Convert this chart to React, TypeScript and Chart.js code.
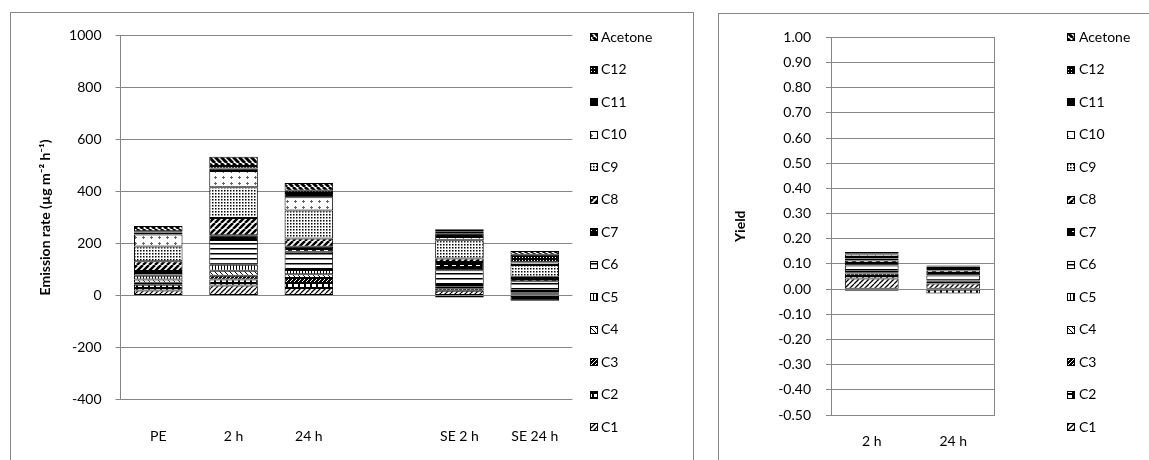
import React, { useEffect, useRef } from 'react';
import { Chart, registerables } from 'chart.js';

Chart.register(...registerables);

// ---------- data ----------
const seriesNames = ['C1', 'C2', 'C3', 'C4', 'C5', 'C6', 'C7', 'C8', 'C9', 'C10', 'C11', 'C12', 'Acetone'];

const emissionCategories = ['PE', '2 h', '24 h', '', 'SE 2 h', 'SE 24 h'];
const emissionC1 = [19, 38, 29, null, 18, 3];
const emissionC2 = [22, 23, 19, null, -8, 3];
const emissionC3 = [8, 15, 19, null, 10, 3];
const emissionC4 = [12, 19, 15, null, 6, 3];
const emissionC5 = [15, 23, 16, null, 6, 5];
const emissionC6 = [10, 95, 70, null, 57, 38];
const emissionC7 = [8, 19, 19, null, 32, 12];
const emissionC8 = [38, 66, 32, null, 13, 5];
const emissionC9 = [56, 118, 108, null, 70, 45];
const emissionC10 = [46, 63, 51, null, 13, 10];
const emissionC11 = [8, 9, 16, null, 14, -20];
const emissionC12 = [5, 10, 9, null, 8, 30];
const emissionAcetone = [20, 35, 29, null, 8, 14];
const emissionTicks = { min: -400, max: 1000, step: 200 };

const yieldCategories = ['2 h', '24 h'];
const yieldC1 = [0.042, 0.022];
const yieldC2 = [0.010, -0.017];
const yieldC3 = [0.010, 0.006];
const yieldC4 = [0.003, 0.003];
const yieldC5 = [0.003, 0.003];
const yieldC6 = [0.026, 0.020];
const yieldC7 = [0.020, 0.020];
const yieldC8 = [0.008, 0.002];
const yieldC9 = [0.006, 0.004];
const yieldC10 = [0.010, 0.004];
const yieldC11 = [-0.006, 0.006];
const yieldC12 = [0.005, 0.002];
const yieldAcetone = [0.005, 0.002];
const yieldTicks = { min: -0.5, max: 1.0, step: 0.1 };

const emissionSeries = [emissionC1, emissionC2, emissionC3, emissionC4, emissionC5, emissionC6, emissionC7,
  emissionC8, emissionC9, emissionC10, emissionC11, emissionC12, emissionAcetone];
const yieldSeries = [yieldC1, yieldC2, yieldC3, yieldC4, yieldC5, yieldC6, yieldC7,
  yieldC8, yieldC9, yieldC10, yieldC11, yieldC12, yieldAcetone];

// ---------- styles ----------
const FONT = 'Lato, "Liberation Sans", sans-serif';
const GRID = '#868686';

function makePattern(w: number, h: number, draw: (g: CanvasRenderingContext2D) => void): CanvasPattern | string {
  const c = document.createElement('canvas');
  c.width = w;
  c.height = h;
  const g = c.getContext('2d') as CanvasRenderingContext2D;
  draw(g);
  return g.createPattern(c, 'repeat') || '#888';
}

function diag(g: CanvasRenderingContext2D, s: number, width: number, up: boolean, fg: string) {
  g.strokeStyle = fg;
  g.lineWidth = width;
  g.beginPath();
  for (let k = -1; k <= 1; k++) {
    if (up) {
      g.moveTo(k * s, s);
      g.lineTo(k * s + s, 0);
    } else {
      g.moveTo(k * s, 0);
      g.lineTo(k * s + s, s);
    }
  }
  g.stroke();
}

function buildPatterns(): (CanvasPattern | string)[] {
  const bg = (g: CanvasRenderingContext2D, w: number, h: number, c: string) => {
    g.fillStyle = c;
    g.fillRect(0, 0, w, h);
  };
  return [
    // C1 light upward diagonal
    makePattern(5, 5, (g) => { bg(g, 5, 5, '#fff'); diag(g, 5, 1.3, true, '#000'); }),
    // C2 small boxes
    makePattern(6, 5, (g) => { bg(g, 6, 5, '#000'); g.fillStyle = '#fff'; g.fillRect(1, 1, 4, 3); }),
    // C3 dark upward diagonal
    makePattern(4, 4, (g) => { bg(g, 4, 4, '#000'); diag(g, 4, 1, true, '#fff'); }),
    // C4 light downward diagonal
    makePattern(5, 5, (g) => { bg(g, 5, 5, '#fff'); diag(g, 5, 1, false, '#000'); }),
    // C5 vertical lines
    makePattern(3, 3, (g) => { bg(g, 3, 3, '#fff'); g.fillStyle = '#000'; g.fillRect(0, 0, 1, 3); }),
    // C6 horizontal lines
    makePattern(4, 5, (g) => { bg(g, 4, 5, '#fff'); g.fillStyle = '#000'; g.fillRect(0, 0, 4, 1.5); }),
    // C7 black with white dashes
    makePattern(8, 5, (g) => { bg(g, 8, 5, '#000'); g.fillStyle = '#fff'; g.fillRect(1, 2, 4, 1); }),
    // C8 wide upward diagonal
    makePattern(6, 6, (g) => { bg(g, 6, 6, '#fff'); diag(g, 6, 2.5, true, '#000'); }),
    // C9 dotted grid
    makePattern(3, 3, (g) => { bg(g, 3, 3, '#fff'); g.fillStyle = '#000'; g.fillRect(0, 0, 1.5, 1.5); }),
    // C10 light plus marks
    makePattern(8, 6, (g) => { bg(g, 8, 6, '#fff'); g.fillStyle = '#666'; g.fillRect(4, 1, 1, 3); g.fillRect(3, 2, 3, 1); }),
    // C11 solid black
    '#000',
    // C12 dark dotted
    makePattern(3, 3, (g) => { bg(g, 3, 3, '#000'); g.fillStyle = '#fff'; g.fillRect(1, 1, 1, 1); }),
    // Acetone wide downward diagonal
    makePattern(6, 6, (g) => { bg(g, 6, 6, '#fff'); diag(g, 6, 3, false, '#000'); }),
  ];
}

// custom legend (reverse order, Acetone on top)
const patternLegend = {
  id: 'patternLegend',
  afterDraw(chart: any, _args: any, opts: any) {
    const { ctx } = chart;
    const items = chart.data.datasets.map((d: any) => ({ label: d.label, fill: d.backgroundColor })).reverse();
    ctx.save();
    items.forEach((it: any, k: number) => {
      const y = opts.y0 + k * opts.step;
      const bx = opts.boxX;
      const by = Math.round(y - 4);
      ctx.fillStyle = it.fill;
      ctx.fillRect(bx, by, 8, 8);
      ctx.strokeStyle = '#000';
      ctx.lineWidth = 1;
      ctx.strokeRect(bx + 0.5, by + 0.5, 7, 7);
      ctx.fillStyle = '#000';
      ctx.font = `14px ${FONT}`;
      ctx.textBaseline = 'middle';
      ctx.textAlign = 'left';
      ctx.fillText(it.label, opts.textX, y);
    });
    ctx.restore();
  },
};

const plotBox = {
  id: 'plotBox',
  beforeDatasetsDraw(chart: any, _args: any, opts: any) {
    if (!opts || !opts.show) return;
    const { ctx, chartArea } = chart;
    ctx.save();
    ctx.strokeStyle = GRID;
    ctx.lineWidth = 1;
    ctx.strokeRect(Math.round(chartArea.left) + 0.5, Math.round(chartArea.top) + 0.5,
      Math.round(chartArea.right - chartArea.left), Math.round(chartArea.bottom - chartArea.top));
    ctx.restore();
  },
};

function makeDatasets(series: (number | null)[][], patterns: (CanvasPattern | string)[], catPct: number) {
  return seriesNames.map((name, i) => ({
    label: name,
    data: series[i],
    backgroundColor: patterns[i],
    borderColor: '#000',
    borderWidth: 1,
    borderSkipped: false,
    barPercentage: 1,
    categoryPercentage: catPct,
  }));
}

export default function App() {
  const leftRef = useRef<HTMLCanvasElement>(null);
  const rightRef = useRef<HTMLCanvasElement>(null);

  useEffect(() => {
    const patterns = buildPatterns();
    const tickFont = { family: FONT, size: 14 };
    const titleFont = { family: FONT, size: 14, weight: 'bold' as const };

    const left = new Chart(leftRef.current as HTMLCanvasElement, {
      type: 'bar',
      data: { labels: emissionCategories, datasets: makeDatasets(emissionSeries, patterns, 0.645) as any },
      options: {
        animation: false,
        responsive: false,
        maintainAspectRatio: false,
        layout: { padding: { left: 0, top: 18.3, right: 118.6, bottom: 0 } },
        plugins: {
          legend: { display: false },
          tooltip: { enabled: false },
          patternLegend: { boxX: 579, textX: 590, y0: 24, step: 32.5 },
        } as any,
        scales: {
          x: {
            stacked: true,
            grid: { display: false, drawTicks: false },
            border: { display: false },
            ticks: { padding: 28.7, font: tickFont, color: '#000', maxRotation: 0, autoSkip: false },
            afterFit: (s: any) => { s.height = 60.5; },
          },
          y: {
            stacked: true,
            min: emissionTicks.min,
            max: emissionTicks.max,
            ticks: {
              stepSize: emissionTicks.step,
              padding: 14,
              font: tickFont,
              color: '#000',
              callback: (v: any) => String(Math.round(Number(v))),
            },
            grid: { color: GRID, tickLength: 5 },
            border: { color: GRID },
            title: { display: true, text: 'Emission rate (µg m\u207B\u00B2 h\u207B\u00B9)', font: titleFont, color: '#000', padding: { top: 26, bottom: 0 } },
            afterFit: (s: any) => { s.width = 109.6; },
          },
        },
      },
      plugins: [patternLegend, plotBox],
    });

    const right = new Chart(rightRef.current as HTMLCanvasElement, {
      type: 'bar',
      data: { labels: yieldCategories, datasets: makeDatasets(yieldSeries, patterns, 0.66) as any },
      options: {
        animation: false,
        responsive: false,
        maintainAspectRatio: false,
        layout: { padding: { left: 0, top: 9, right: 155, bottom: 0 } },
        plugins: {
          legend: { display: false },
          tooltip: { enabled: false },
          patternLegend: { boxX: 348, textX: 360, y0: 23, step: 32.5 },
          plotBox: { show: true },
        } as any,
        scales: {
          x: {
            stacked: true,
            grid: { display: false, drawTicks: false },
            border: { display: false },
            ticks: { padding: 18, font: tickFont, color: '#000', maxRotation: 0, autoSkip: false },
            afterFit: (s: any) => { s.height = 45; },
          },
          y: {
            stacked: true,
            min: yieldTicks.min,
            max: yieldTicks.max,
            ticks: {
              stepSize: yieldTicks.step,
              padding: 15,
              font: tickFont,
              color: '#000',
              callback: (v: any) => (Math.abs(Number(v)) < 1e-9 ? 0 : Number(v)).toFixed(2),
            },
            grid: { color: GRID, tickLength: 5 },
            border: { color: GRID },
            title: { display: true, text: 'Yield', font: titleFont, color: '#000', padding: { top: 13, bottom: 0 } },
            afterFit: (s: any) => { s.width = 112; },
          },
        },
      },
      plugins: [patternLegend, plotBox],
    });

    return () => {
      left.destroy();
      right.destroy();
    };
  }, []);

  return (
    <div style={{ position: 'absolute', left: 0, top: 0, width: 1149, height: 460, overflow: 'hidden', background: '#fff' }}>
      <div style={{ position: 'absolute', left: 10, top: 12, width: 684, height: 470, border: `1px solid ${GRID}`, boxSizing: 'border-box' }} />
      <div style={{ position: 'absolute', left: 718, top: 13, width: 460, height: 470, border: `1px solid ${GRID}`, boxSizing: 'border-box' }} />
      <canvas ref={leftRef} width={680} height={447} style={{ position: 'absolute', left: 11, top: 13, width: 680, height: 447 }} />
      <canvas ref={rightRef} width={430} height={446} style={{ position: 'absolute', left: 719, top: 14, width: 430, height: 446 }} />
    </div>
  );
}
